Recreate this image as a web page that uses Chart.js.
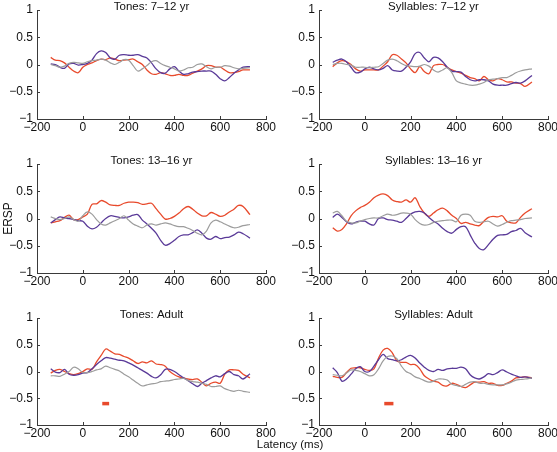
<!DOCTYPE html>
<html><head><meta charset="utf-8">
<script src="https://cdn.jsdelivr.net/npm/chart.js@4.4.1/dist/chart.umd.min.js"></script>
<style>
html,body{margin:0;padding:0;background:#fff;overflow:hidden;}
#wrap{position:relative;width:557px;height:452px;overflow:hidden;}
#wrap canvas{position:absolute;left:0;top:0;}
</style></head><body><div id="wrap"></div>
<script>
// ---- data ----
const latency = [-140,-120,-100,-80,-60,-40,-20,0,20,40,60,80,100,120,140,160,180,200,220,240,260,280,300,320,340,360,380,400,420,440,460,480,500,520,540,560,580,600,620,640,660,680,700,730];
const xTicks = [-200,0,200,400,600,800];
const yTicks = [-1,-0.5,0,0.5,1];
const panelTitles = ['Tones: 7–12 yr','Syllables: 7–12 yr','Tones: 13–16 yr','Syllables: 13–16 yr','Tones: Adult','Syllables: Adult'];

const tones712Red    = [0.13,0.08,0.07,0.03,-0.05,-0.12,-0.15,-0.05,0.0,0.03,0.07,0.1,0.09,0.12,0.1,0.07,0.08,0.09,0.1,0.05,0.0,-0.1,-0.17,-0.18,-0.15,-0.17,-0.2,-0.2,-0.18,-0.2,-0.2,-0.16,-0.12,-0.08,-0.02,-0.02,-0.05,-0.05,-0.1,-0.15,-0.15,-0.13,-0.1,-0.1];
const tones712Purple = [0.01,0.0,-0.05,-0.07,0.01,0.02,-0.01,0.0,0.02,0.08,0.2,0.25,0.22,0.12,0.1,0.17,0.18,0.17,0.17,0.18,0.15,0.12,0.03,-0.08,-0.15,-0.16,-0.08,-0.04,-0.12,-0.18,-0.17,-0.14,-0.13,-0.12,-0.12,-0.12,-0.18,-0.26,-0.3,-0.24,-0.16,-0.1,-0.05,-0.04];
const tones712Gray   = [0.0,-0.02,-0.05,-0.03,0.02,0.04,0.03,0.02,0.05,0.07,0.08,0.1,0.08,0.03,0.0,0.04,0.09,0.08,-0.02,-0.12,-0.08,-0.02,0.05,0.07,0.02,-0.02,-0.05,-0.08,-0.12,-0.1,-0.06,-0.05,0.0,0.01,-0.04,-0.08,-0.05,-0.05,-0.02,-0.03,-0.06,-0.08,-0.07,-0.06];

const syl712Red    = [-0.04,0.03,0.07,0.05,0.0,-0.08,-0.12,-0.1,-0.1,-0.1,-0.1,-0.03,0.05,0.18,0.17,0.1,0.03,-0.08,-0.15,-0.04,-0.13,-0.17,-0.02,0.0,0.0,-0.05,-0.1,-0.13,-0.16,-0.2,-0.24,-0.26,-0.3,-0.22,-0.28,-0.3,-0.26,-0.28,-0.32,-0.32,-0.34,-0.35,-0.4,-0.32];
const syl712Purple = [0.04,0.08,0.1,0.05,-0.05,-0.15,-0.14,-0.08,-0.05,-0.08,-0.1,-0.07,-0.02,-0.1,-0.12,-0.12,-0.05,0.05,0.2,0.22,0.12,0.05,0.13,0.12,0.05,-0.05,-0.12,-0.13,-0.14,-0.22,-0.28,-0.3,-0.28,-0.28,-0.3,-0.36,-0.38,-0.38,-0.38,-0.35,-0.33,-0.34,-0.3,-0.2];
const syl712Gray   = [0.0,0.02,0.02,0.0,-0.01,-0.05,-0.05,-0.05,-0.06,-0.05,-0.04,0.02,0.08,0.1,0.07,0.02,-0.02,-0.03,-0.04,-0.03,0.0,-0.03,-0.1,-0.14,-0.1,-0.06,-0.15,-0.3,-0.34,-0.36,-0.38,-0.38,-0.36,-0.33,-0.28,-0.27,-0.26,-0.24,-0.24,-0.2,-0.15,-0.12,-0.1,-0.08];

const tones1316Red    = [-0.08,-0.06,-0.04,0.02,0.06,-0.02,-0.02,0.03,0.08,0.26,0.27,0.33,0.3,0.25,0.24,0.24,0.28,0.3,0.3,0.29,0.26,0.27,0.28,0.18,0.08,-0.01,0.0,0.04,0.1,0.18,0.22,0.17,0.1,0.05,0.05,0.11,0.08,0.04,0.06,0.12,0.17,0.24,0.22,0.07];
const tones1316Purple = [-0.08,-0.02,0.03,0.01,0.0,-0.02,-0.04,-0.05,-0.14,-0.19,-0.16,-0.08,0.0,0.05,0.04,0.02,0.01,0.03,0.06,0.07,-0.03,-0.1,-0.18,-0.27,-0.4,-0.49,-0.46,-0.4,-0.33,-0.3,-0.3,-0.26,-0.21,-0.27,-0.36,-0.38,-0.33,-0.37,-0.35,-0.34,-0.3,-0.25,-0.28,-0.36];
const tones1316Gray   = [0.03,0.0,-0.02,0.0,0.03,-0.02,-0.05,0.05,0.12,0.08,-0.02,-0.1,-0.12,-0.08,-0.04,0.0,0.05,-0.03,-0.1,-0.14,-0.17,-0.12,-0.1,-0.12,-0.1,-0.08,-0.1,-0.13,-0.15,-0.15,-0.18,-0.22,-0.27,-0.3,-0.23,-0.08,-0.03,-0.06,-0.1,-0.14,-0.17,-0.16,-0.13,-0.11];

const syl1316Red    = [-0.17,-0.23,-0.2,-0.1,0.05,0.14,0.2,0.24,0.3,0.38,0.43,0.45,0.42,0.34,0.31,0.3,0.34,0.3,0.38,0.22,0.1,0.04,0.1,0.16,0.19,0.14,0.06,0.0,-0.09,-0.07,-0.1,-0.12,-0.13,-0.05,0.02,0.04,0.03,0.05,-0.05,-0.08,-0.08,0.02,0.1,0.18];
const syl1316Purple = [0.02,0.08,0.02,-0.06,-0.1,-0.07,-0.05,-0.05,-0.1,-0.12,0.0,0.01,-0.02,-0.03,-0.05,-0.07,0.0,0.08,0.12,0.13,0.1,0.02,-0.05,-0.1,-0.18,-0.24,-0.27,-0.2,-0.15,-0.15,-0.3,-0.45,-0.55,-0.57,-0.48,-0.38,-0.31,-0.3,-0.29,-0.24,-0.22,-0.18,-0.26,-0.34];
const syl1316Gray   = [0.1,0.13,0.05,-0.05,-0.08,-0.08,-0.05,-0.02,0.0,0.01,0.01,0.05,0.08,0.06,0.07,0.1,0.1,0.08,-0.02,-0.09,-0.12,-0.11,-0.07,-0.05,-0.04,-0.03,-0.03,-0.06,0.06,0.08,0.06,-0.05,-0.07,-0.06,-0.05,-0.1,-0.14,-0.11,-0.07,-0.04,-0.03,-0.02,0.0,0.01];

const tonesAdultRed    = [-0.03,0.02,0.04,0.0,-0.04,-0.06,-0.04,0.0,0.05,0.04,0.18,0.3,0.42,0.38,0.33,0.32,0.28,0.25,0.2,0.15,0.18,0.16,0.2,0.14,0.13,0.1,0.0,-0.06,-0.1,-0.12,-0.14,-0.15,-0.14,-0.2,-0.27,-0.22,-0.2,-0.22,-0.05,0.03,0.03,0.02,-0.05,-0.12];
const tonesAdultPurple = [0.05,-0.01,-0.02,0.04,-0.05,-0.07,-0.06,-0.03,-0.02,0.05,0.13,0.2,0.26,0.25,0.23,0.21,0.2,0.16,0.12,0.07,0.02,-0.03,-0.09,-0.12,-0.06,0.04,0.04,0.0,-0.06,-0.12,-0.17,-0.23,-0.28,-0.22,-0.17,-0.12,-0.08,-0.1,-0.04,0.0,-0.06,-0.08,-0.14,-0.04];
const tonesAdultGray   = [-0.08,-0.08,-0.09,-0.05,0.0,0.08,0.05,-0.02,-0.02,0.0,0.03,0.05,0.1,0.07,0.04,0.01,-0.05,-0.1,-0.16,-0.22,-0.27,-0.25,-0.23,-0.22,-0.19,-0.18,-0.17,-0.15,-0.14,-0.13,-0.17,-0.19,-0.2,-0.22,-0.24,-0.28,-0.28,-0.27,-0.32,-0.35,-0.37,-0.35,-0.37,-0.39];

const sylAdultRed    = [-0.09,-0.11,-0.11,-0.02,0.06,0.07,0.07,0.04,0.02,0.05,0.25,0.4,0.43,0.35,0.2,0.17,0.17,0.13,0.13,0.05,-0.08,-0.14,-0.18,-0.2,-0.26,-0.27,-0.22,-0.24,-0.28,-0.3,-0.25,-0.2,-0.2,-0.19,-0.22,-0.22,-0.26,-0.26,-0.22,-0.18,-0.12,-0.11,-0.1,-0.12];
const sylAdultPurple = [0.07,-0.02,-0.18,-0.14,-0.05,0.05,0.09,0.0,0.0,0.1,0.22,0.32,0.24,0.22,0.2,0.22,0.27,0.3,0.25,0.16,0.08,0.02,0.0,0.04,0.02,0.05,0.06,0.06,0.08,0.05,-0.06,-0.12,-0.14,-0.1,-0.04,-0.06,-0.02,0.03,-0.01,-0.05,-0.08,-0.11,-0.1,-0.13];
const sylAdultGray   = [-0.06,-0.07,-0.08,-0.03,0.03,0.02,0.0,-0.04,-0.08,-0.06,0.05,0.2,0.28,0.29,0.24,0.1,0.0,-0.04,-0.1,-0.13,-0.17,-0.2,-0.18,-0.14,-0.14,-0.16,-0.24,-0.26,-0.28,-0.24,-0.2,-0.19,-0.22,-0.22,-0.24,-0.25,-0.25,-0.25,-0.23,-0.2,-0.16,-0.15,-0.14,-0.12];

// significance bars (latency range, ERSP level) for adult panels
const sigTonesAdult = [85, 115];
const sigSylAdult   = [85, 125];
const sigLevel      = [-0.6, -0.6];

const series = [
  [tones712Red, tones712Purple, tones712Gray, null],
  [syl712Red, syl712Purple, syl712Gray, null],
  [tones1316Red, tones1316Purple, tones1316Gray, null],
  [syl1316Red, syl1316Purple, syl1316Gray, null],
  [tonesAdultRed, tonesAdultPurple, tonesAdultGray, sigTonesAdult],
  [sylAdultRed, sylAdultPurple, sylAdultGray, sigSylAdult]
];

// ---- layout / style ----
const CW = 600, CH = 470;
const plotBoxes = [
  {l:37, r:266, t:10,  b:117},
  {l:319,r:548, t:10,  b:117},
  {l:37, r:266, t:164, b:271},
  {l:319,r:548, t:164, b:271},
  {l:37, r:266, t:318, b:423},
  {l:319,r:548, t:318, b:423}
];
const YW = 37, XH = 22, BOTTOM_FIX = 2;
const RED = '#e84a2c', PURPLE = '#5a3a98', GRAY = '#9c9c9c', AXIS = '#3a3a3a', TXT = '#111';
const FONT = '"Liberation Sans", Arial, Helvetica, sans-serif';

const fmt = v => String(v).replace('-', '\u2212');

const decor = {
  id: 'decor',
  afterDraw(chart, args, opts) {
    const {ctx, chartArea: a, scales: {x, y}} = chart;
    ctx.save();
    ctx.strokeStyle = AXIS; ctx.lineWidth = 1;
    ctx.beginPath();
    x.ticks.forEach(t => { const px = Math.round(x.getPixelForValue(t.value)) + 0.5; ctx.moveTo(px, a.bottom); ctx.lineTo(px, a.bottom - 3); });
    y.ticks.forEach(t => { const py = Math.round(y.getPixelForValue(t.value)) + 0.5; ctx.moveTo(a.left, py); ctx.lineTo(a.left + 3, py); });
    ctx.stroke();
    ctx.fillStyle = TXT;
    ctx.font = '11.5px ' + FONT;
    ctx.textAlign = 'center'; ctx.textBaseline = 'middle';
    ctx.fillText(opts.title, (a.left + a.right) / 2, a.top - 3.5);
    if (opts.xlabel) ctx.fillText(opts.xlabel, opts.xlabelX, opts.xlabelY);
    ctx.restore();
  }
};

const wrap = document.getElementById('wrap');
plotBoxes.forEach((box, i) => {
  const cv = document.createElement('canvas');
  cv.width = CW; cv.height = CH;
  cv.style.width = CW + 'px'; cv.style.height = CH + 'px';
  wrap.appendChild(cv);
  const [r, p, g, sig] = series[i];
  const mk = arr => latency.map((t, k) => ({x: t, y: arr[k]}));
  const ds = [
    {data: mk(g), borderColor: GRAY, borderWidth: 1.2},
    {data: mk(p), borderColor: PURPLE, borderWidth: 1.3},
    {data: mk(r), borderColor: RED, borderWidth: 1.3}
  ];
  if (sig) ds.push({data: sig.map((t, k) => ({x: t, y: sigLevel[k]})), borderColor: RED, borderWidth: 3.5, tension: 0, borderCapStyle: 'butt'});
  new Chart(cv, {
    type: 'line',
    data: {datasets: ds.map(d => Object.assign({pointRadius: 0, fill: false, tension: 0.35}, d))},
    options: {
      responsive: false, animation: false, devicePixelRatio: 1,
      layout: {padding: {left: box.l - YW, right: CW - box.r, top: box.t, bottom: CH - box.b - XH - BOTTOM_FIX}},
      plugins: {
        legend: {display: false}, tooltip: {enabled: false}, title: {display: false},
        decor: {title: panelTitles[i], xlabel: i === 5 ? 'Latency (ms)' : null, xlabelX: 290, xlabelY: 445}
      },
      scales: {
        x: {
          type: 'linear', min: -200, max: 800,
          afterBuildTicks: s => { s.ticks = xTicks.map(v => ({value: v})); },
          afterFit: s => { s.height = XH; s.paddingLeft = 0; s.paddingRight = 0; s.paddingTop = 0; s.paddingBottom = 0; },
          grid: {display: false, drawTicks: false, tickLength: 0}, border: {display: true, color: AXIS, width: 1},
          ticks: {color: TXT, font: {size: 12, family: FONT}, padding: 1, maxRotation: 0, autoSkip: false, callback: v => fmt(v)}
        },
        y: {
          type: 'linear', min: -1, max: 1,
          afterBuildTicks: s => { s.ticks = yTicks.map(v => ({value: v})); },
          afterFit: s => { s.width = YW; s.paddingLeft = 0; s.paddingRight = 0; s.paddingTop = 0; s.paddingBottom = 0; },
          grid: {display: false, drawTicks: false, tickLength: 0}, border: {display: true, color: AXIS, width: 1},
          ticks: {color: TXT, font: {size: 12, family: FONT}, padding: 4, autoSkip: false, callback: v => fmt(v)},
          title: {display: i === 2, text: 'ERSP', color: TXT, font: {size: 12, family: FONT}, padding: {top: 1, bottom: 0}}
        }
      }
    },
    plugins: [decor]
  });
});
</script></body></html>
